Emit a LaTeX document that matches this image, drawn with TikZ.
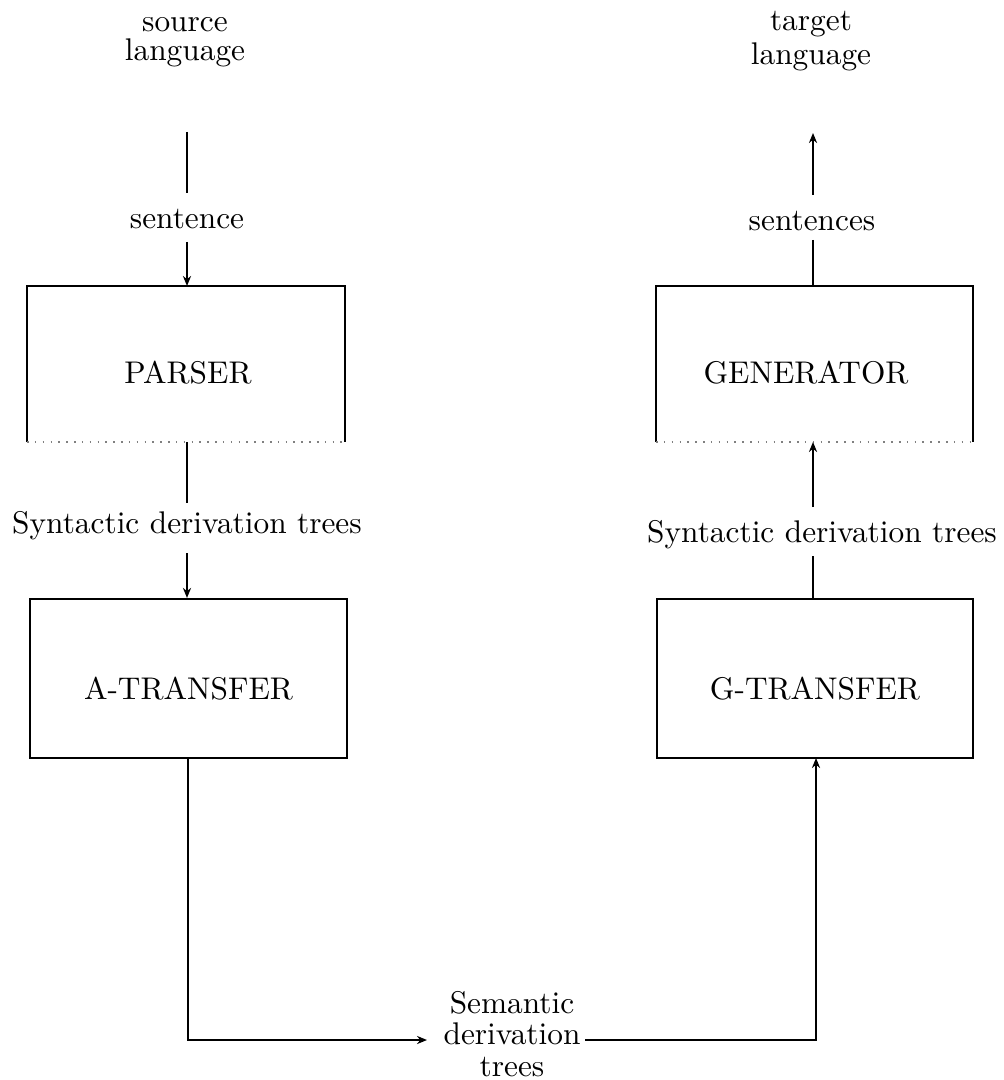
\documentclass[tikz,border=0pt]{standalone}
\usetikzlibrary{arrows.meta}
\begin{document}
\begin{tikzpicture}[x=0.319pt,y=-0.319pt,
  conn/.style={line width=0.7pt},
  arr/.style={line width=0.7pt,-{Stealth[length=3.2pt,width=2.6pt]}},
  lbl/.style={inner sep=0pt,align=center,font=\fontsize{10}{9.4}\selectfont},
  boxtxt/.style={inner sep=0pt,font=\fontsize{10}{12}\selectfont},
  tbox/.style={draw,line width=0.7pt,inner sep=0pt,text height=13.2pt,text depth=0pt,
    font=\fontsize{10}{12}\selectfont}]
\useasboundingbox (0,0) rectangle (1003,1080);
% labels
\node[lbl] (src) at (185,42) {source\\language};
\node[lbl,font=\fontsize{10}{10.8}\selectfont] (tgt) at (811,41) {target\\language};
\node[lbl] (sent) at (187,219) {sentence};
\node[lbl] (sents) at (812,221) {sentences};
\node[lbl] (syn1) at (187,526) {Syntactic derivation trees};
\node[lbl] (syn2) at (822,535) {Syntactic derivation trees};
\node[lbl,font=\fontsize{10}{10}\selectfont] (sem) at (512,1034) {Semantic\\derivation\\trees};
% open boxes (bottom edge barely printed)
\coordinate (p1) at (27,286); \coordinate (p2) at (345,442);
\coordinate (g1) at (656,286); \coordinate (g2) at (973,442);
\node[boxtxt] (parser) at (188,373) {PARSER};
\node[boxtxt] (gen) at (806,373) {GENERATOR};
\draw[conn] (p1 |- p2) -- (p1) -- (p2 |- p1) -- (p2);
\draw[line width=0.5pt,dotted,gray] (p1 |- p2) -- (p2);
\draw[conn] (g1 |- g2) -- (g1) -- (g2 |- g1) -- (g2);
\draw[line width=0.5pt,dotted,gray] (g1 |- g2) -- (g2);
% closed boxes
\node[tbox,minimum width=101.2pt,minimum height=50.7pt] (atr) at (188.5,678.5) {A-TRANSFER};
\node[tbox,minimum width=100.8pt,minimum height=50.7pt] (gtr) at (815,678.5) {G-TRANSFER};
% anchors
\coordinate (ptop) at (187,286); \coordinate (pbot) at (187,442);
\coordinate (gtop) at (813,286); \coordinate (gbot) at (813,442);
\coordinate (s1) at (187,132); \coordinate (s2) at (187,193);
\coordinate (s3) at (187,242);
\coordinate (t1) at (813,133); \coordinate (t2) at (813,195);
\coordinate (t3) at (813,240);
\coordinate (y1) at (187,503); \coordinate (y2) at (187,553);
\coordinate (z1) at (813,507); \coordinate (z2) at (813,556);
\coordinate (atb) at (188,758); \coordinate (gtb) at (816,758);
\coordinate (bl) at (188,1040); \coordinate (br) at (816,1040);
\coordinate (ae) at (427,1040); \coordinate (as) at (585,1040);
% left column
\draw[conn] (s1) -- (s2);
\draw[arr] (s3) -- (ptop);
\draw[conn] (pbot) -- (y1);
\draw[arr] (y2) -- (y2 |- atr.north);
% right column
\draw[arr] (t2) -- (t1);
\draw[conn] (t3) -- (gtop);
\draw[arr] (z1) -- (gbot);
\draw[conn] (z2 |- gtr.north) -- (z2);
% bottom loop
\draw[arr] (atb) -- (bl) -- (ae);
\draw[arr] (as) -- (br) -- (gtb);
\end{tikzpicture}
\end{document}
